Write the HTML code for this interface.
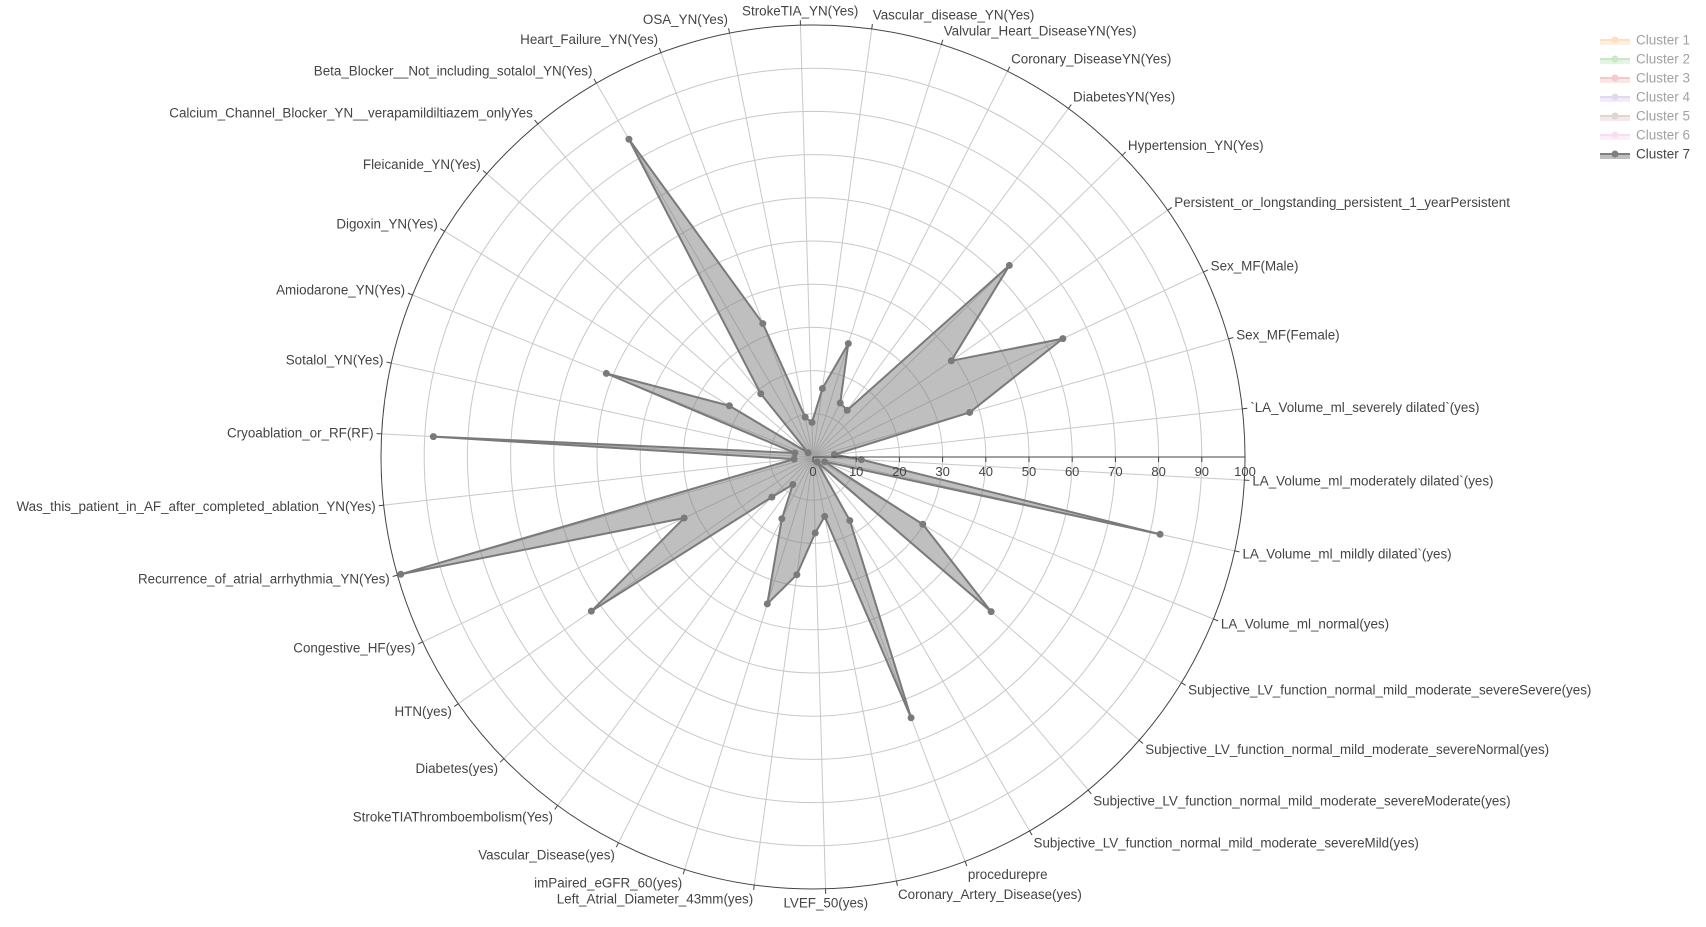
<!DOCTYPE html>
<html><head><meta charset="utf-8">
<style>
html,body{margin:0;padding:0;background:#fff;}
svg{display:block;font-family:"Liberation Sans",Arial,sans-serif;}
</style></head>
<body>
<svg id="chart" width="1706" height="927" viewBox="0 0 1706 927"></svg>
<script>
const categories = ["`LA_Volume_ml_severely dilated`(yes)","Sex_MF(Female)","Sex_MF(Male)","Persistent_or_longstanding_persistent_1_yearPersistent","Hypertension_YN(Yes)","DiabetesYN(Yes)","Coronary_DiseaseYN(Yes)","Valvular_Heart_DiseaseYN(Yes)","Vascular_disease_YN(Yes)","StrokeTIA_YN(Yes)","OSA_YN(Yes)","Heart_Failure_YN(Yes)","Beta_Blocker__Not_including_sotalol_YN(Yes)","Calcium_Channel_Blocker_YN__verapamildiltiazem_onlyYes","Fleicanide_YN(Yes)","Digoxin_YN(Yes)","Amiodarone_YN(Yes)","Sotalol_YN(Yes)","Cryoablation_or_RF(RF)","Was_this_patient_in_AF_after_completed_ablation_YN(Yes)","Recurrence_of_atrial_arrhythmia_YN(Yes)","Congestive_HF(yes)","HTN(yes)","Diabetes(yes)","StrokeTIAThromboembolism(Yes)","Vascular_Disease(yes)","imPaired_eGFR_60(yes)","Left_Atrial_Diameter_43mm(yes)","LVEF_50(yes)","Coronary_Artery_Disease(yes)","procedurepre","Subjective_LV_function_normal_mild_moderate_severeMild(yes)","Subjective_LV_function_normal_mild_moderate_severeModerate(yes)","Subjective_LV_function_normal_mild_moderate_severeNormal(yes)","Subjective_LV_function_normal_mild_moderate_severeSevere(yes)","LA_Volume_ml_normal(yes)","LA_Volume_ml_mildly dilated`(yes)","LA_Volume_ml_moderately dilated`(yes)"];
const cluster7 = [5,37.7,64,39,63.5,13.4,14,27.5,16,8,9.4,33,85,19,1.5,22.7,51.6,4.3,88,4.4,99.2,33,62.5,13.3,7.9,16,35.6,27.5,17.6,14,64.5,17,1.5,54.6,29.8,2.9,82.3,11.2];
const radialTicks = [0,10,20,30,40,50,60,70,80,90,100];
const legendNames = ["Cluster 1","Cluster 2","Cluster 3","Cluster 4","Cluster 5","Cluster 6","Cluster 7"];
const legendColors = ["#ffbf87","#93d293","#ee9595","#c8b4e0","#c8aaa5","#f7bde5","#7f7f7f"];

const svg = document.getElementById('chart');
const NS = 'http://www.w3.org/2000/svg';
const CX = 813, CY = 457, R = 432, RMAX = 100, START = 6.4;
const STEP = 360 / categories.length;
function rScale(v){ return v / RMAX * R; }
function angleOf(i){ return (START + i * STEP) * Math.PI / 180; }
function pt(i, v){ const a = angleOf(i), r = rScale(v); return [CX + r*Math.cos(a), CY - r*Math.sin(a)]; }
function mk(tag, attrs, parent){ const e = document.createElementNS(NS, tag); for (const k in attrs) e.setAttribute(k, attrs[k]); (parent||svg).appendChild(e); return e; }

const grid = mk('g', {});


radialTicks.forEach(t => {
  if (t === 0 || t === 100) return;
  const c = mk('circle', {cx:CX, cy:CY, r:rScale(t), fill:'none', stroke:'#c8c8c8', 'stroke-width':1}, grid);
  
  
});
categories.forEach((c, i) => {
  const p = pt(i, RMAX);
  const l = mk('line', {x1:CX, y1:CY, x2:p[0], y2:p[1], stroke:'#c8c8c8', 'stroke-width':1}, grid);
  
  
});
const outer = mk('circle', {cx:CX, cy:CY, r:R, fill:'none', stroke:'#444', 'stroke-width':1});



const pts = cluster7.map((v, i) => pt(i, v));
const poly = mk('polygon', {points: pts.map(p => p.join(',')).join(' '), fill:'rgba(128,128,128,0.5)', stroke:'#7a7a7a', 'stroke-width':2, 'stroke-linejoin':'round'});


pts.forEach(p => {
  const m = mk('circle', {cx:p[0], cy:p[1], r:3.5, fill:'#7a7a7a'});
  
  
});

categories.forEach((c, i) => {
  const a = angleOf(i), co = Math.cos(a), si = Math.sin(a);
  const x1 = CX + R*co, y1 = CY - R*si, x2 = CX + (R+5)*co, y2 = CY - (R+5)*si;
  const tk = mk('line', {x1, y1, x2, y2, stroke:'#444', 'stroke-width':1});
  
  
  const anchor = co > 0.12 ? 'start' : (co < -0.12 ? 'end' : 'middle');
  const tx = x2 + co*3;
  const ty = y2 - si*9 + 4.5;
  const t = mk('text', {x:tx, y:ty, 'text-anchor':anchor, 'font-size':13.4, fill:'#444'});
  t.textContent = c;
  
  
});

const rax = mk('line', {x1:CX, y1:CY, x2:CX+R, y2:CY, stroke:'#444', 'stroke-width':1});


radialTicks.forEach(t => {
  const x = CX + rScale(t);
  const tk = mk('line', {x1:x, y1:CY, x2:x, y2:CY+5, stroke:'#444', 'stroke-width':1});
  
  
  const tl = mk('text', {x:x, y:CY+19, 'text-anchor':'middle', 'font-size':13, fill:'#444'});
  tl.textContent = t;
  
  
});

const lg = mk('g', {});


legendNames.forEach((n, i) => {
  const y = 40 + i*19;
  const item = mk('g', {opacity: i === 6 ? 1 : 0.5}, lg);
  
  
  mk('rect', {x:1600, y:y-1, width:30, height:6, fill:legendColors[i], opacity:0.5}, item);
  mk('line', {x1:1600, y1:y, x2:1630, y2:y, stroke:legendColors[i], 'stroke-width':2}, item);
  mk('circle', {cx:1615, cy:y, r:3.5, fill:legendColors[i]}, item);
  const t = mk('text', {x:1636, y:y+4.5, 'font-size':13.5, fill:'#444'}, item);
  t.textContent = n;
});
</script>
</body></html>
